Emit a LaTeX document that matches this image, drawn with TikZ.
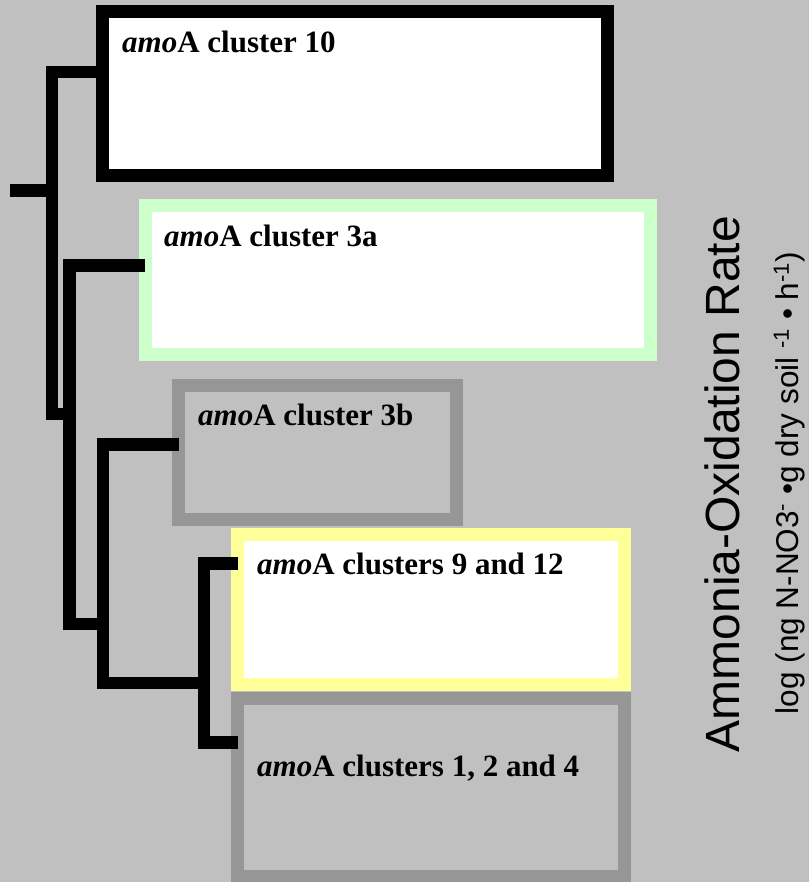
\documentclass[tikz,border=0pt]{standalone}
\usepackage{fontspec}
\setmainfont{Liberation Serif}
\newfontfamily\arialfont{Liberation Sans}
\definecolor{bgsilver}{HTML}{C0C0C0}
\definecolor{boxgreen}{HTML}{CCFFCC}
\definecolor{boxyellow}{HTML}{FFFF99}
\definecolor{boxgray}{HTML}{969696}
\begin{document}
\begin{tikzpicture}[x=1pt,y=-1pt,
  clbox/.style={rectangle, line width=13pt, inner sep=0pt, outer sep=0pt},
  tree/.style={line width=12.5pt, black},
  lbl/.style={anchor=base west, inner sep=0pt, font=\fontsize{31}{37}\selectfont\bfseries},
  axis/.style={rotate=90, anchor=base, inner sep=0pt}]
\useasboundingbox[fill=bgsilver] (0,0) rectangle (809,882);
% boxes
\node[clbox, draw=black, fill=white, minimum width=505pt, minimum height=163.5pt] (c10) at (355,93.75) {};
\node[clbox, draw=boxgreen, fill=white, minimum width=505pt, minimum height=148.5pt] (c3a) at (397.5,280.25) {};
\node[clbox, draw=boxgray, minimum width=277.5pt, minimum height=134pt] (c3b) at (317.25,452) {};
\node[clbox, draw=boxgray, minimum width=387pt, minimum height=178pt] (c124) at (431,787) {};
\node[clbox, draw=boxyellow, fill=white, minimum width=387pt, minimum height=150pt] (c912) at (431,609) {};
% labels
\node[lbl] (t10) at (122,53) {\textit{amo}A cluster 10};
\node[lbl] (t3a) at (164,247) {\textit{amo}A cluster 3a};
\node[lbl] (t3b) at (198,425) {\textit{amo}A cluster 3b};
\node[lbl] (t912) at (257,574) {\textit{amo}A clusters 9 and 12};
\node[lbl] (t124) at (257,776) {\textit{amo}A clusters 1, 2 and 4};
% axis titles
\node[axis, font=\arialfont\fontsize{48}{56}\selectfont] (ax1) at (739,484) {Ammonia-Oxidation Rate};
\node[axis, font=\arialfont\fontsize{31.5}{37}\selectfont] (ax2) at (798,483) {log (ng N-NO3\textsuperscript{-} •g dry soil \textsuperscript{-1} • h\textsuperscript{-1})};
% tree
\coordinate (root) at (10,190.5);
\coordinate (v1top) at (52,72);
\coordinate (v1bot) at (52,414);
\coordinate (v2top) at (69.5,265.5);
\coordinate (v2bot) at (69.5,624);
\coordinate (v3top) at (103,444.5);
\coordinate (v3bot) at (103,683);
\coordinate (v4top) at (204,563.5);
\coordinate (v4bot) at (204,742.5);
\draw[tree] (root) -- (root -| v1top);
\draw[tree] (c10.west |- v1top) -- (v1top) -- (v1bot) -- (v1bot -| v2top);
\draw[tree] (c3a.west |- v2top) -- (v2top) -- (v2bot) -- (v2bot -| v3top);
\draw[tree] (c3b.west |- v3top) -- (v3top) -- (v3bot) -- (v3bot -| v4top);
\draw[tree] (c912.west |- v4top) -- (v4top) -- (v4bot) -- (c124.west |- v4bot);
\end{tikzpicture}
\end{document}
